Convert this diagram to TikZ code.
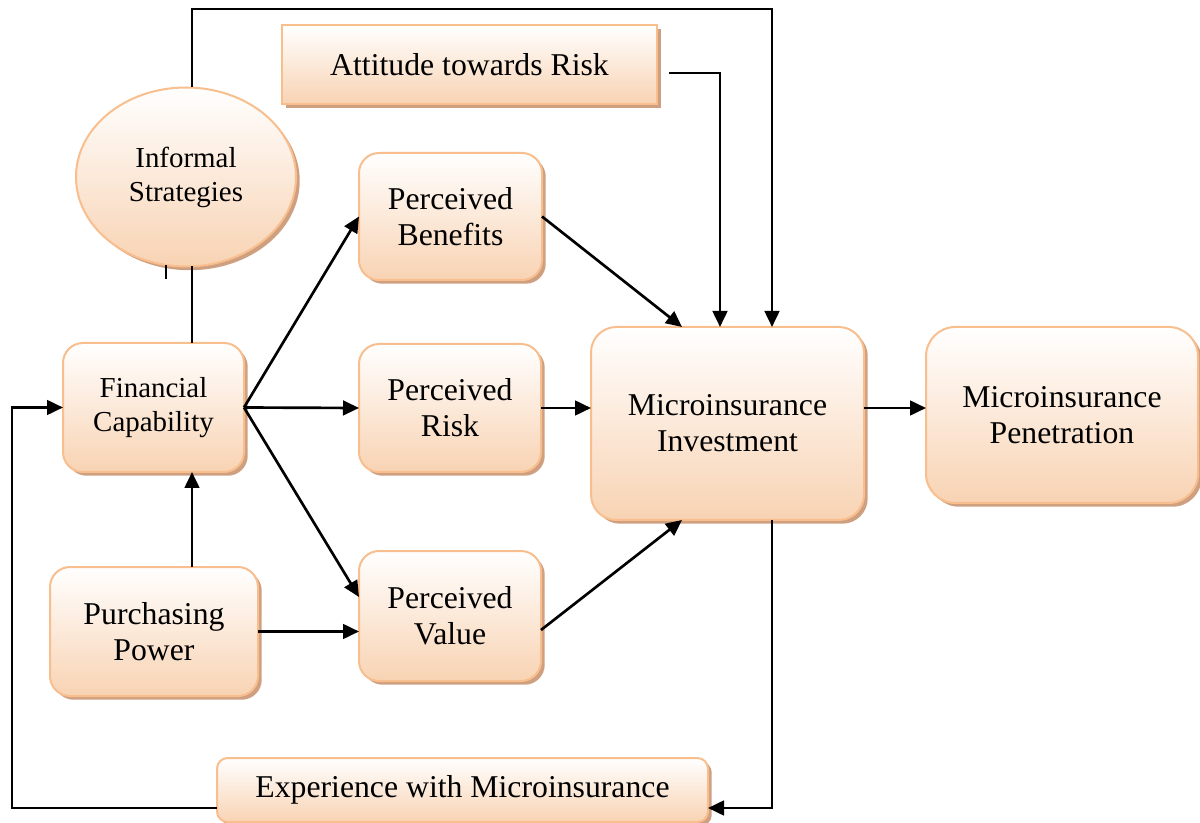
\documentclass[tikz,border=0pt]{standalone}
\usepackage{fontspec}
\setmainfont{Liberation Serif}
\usetikzlibrary{arrows.meta,shapes.geometric,calc}
\definecolor{edgeor}{HTML}{F8BE8E}
\definecolor{peach}{HTML}{F8D3B3}
\definecolor{shadowc}{HTML}{CFA080}
\tikzset{
  box/.style={draw=edgeor, line width=1.5pt, top color=white, bottom color=peach,
    inner sep=0pt, outer sep=0pt, align=center, font=\fontsize{23.8}{27}\selectfont,
    preaction={fill=shadowc, transform canvas={shift={(2.8pt,-2.8pt)}}}},
  rbox/.style={box, rounded corners=15pt},
  small/.style={font=\fontsize{21.7}{25.5}\selectfont},
  conn/.style={line width=2pt, black},
  arr/.style={conn, -{Triangle[length=12pt,width=11pt]}},
}
\begin{document}
\begin{tikzpicture}[x=0.75pt,y=-0.75pt]
\useasboundingbox (0,0) rectangle (1200,823);

% boxes
\node[box, minimum width=281.25pt, minimum height=59.25pt] (att) at (469.5,64.5) {Attitude towards Risk};
\node[box, ellipse, small, minimum width=165pt, minimum height=134.25pt] (inf) at (186,177) {Informal\\Strategies};
\node[rbox, small, minimum width=135.75pt, minimum height=96.75pt] (fc) at (153.5,407.5) {Financial\\Capability};
\node[rbox, minimum width=137.25pt, minimum height=95.25pt] (pb) at (450.5,216.5) {Perceived\\Benefits};
\node[rbox, minimum width=136.5pt, minimum height=96pt] (pr) at (450,408) {Perceived\\Risk};
\node[rbox, minimum width=136.5pt, minimum height=97.5pt] (pv) at (450,616) {Perceived\\Value};
\node[rbox, minimum width=156pt, minimum height=96.75pt] (pp) at (154,631.5) {Purchasing\\Power};
\node[rbox, rounded corners=19pt, minimum width=204.75pt, minimum height=144.75pt] (mi) at (727.5,423.5) {Microinsurance\\Investment};
\node[rbox, rounded corners=22pt, minimum width=204pt, minimum height=132pt] (pen) at (1062,415) {Microinsurance\\Penetration};
\node[rbox, rounded corners=8pt, minimum width=368.25pt, minimum height=48pt] (exp) at (462.5,790) {Experience with Microinsurance};

% corner points of the loops
\coordinate (topL) at (192,9);
\coordinate (botL) at (12,808);

% links out of informal strategies
\draw[arr] ($(inf.north)+(6,0)$) -- (topL) -| ($(mi.north west)+(181,0)$);
\draw[conn] ($(inf.south)+(6,0)$) -- ($(fc.north west)+(129,0)$);
\draw[conn] ($(inf.south)+(-20,-1)$) -- ++(0,14);

% financial capability and its drivers
\draw[arr] ($(pp.north west)+(142,0)$) -- ($(fc.south west)+(129,0)$);
\draw[arr] (fc.east) -- (pb.west);
\draw[arr] (fc.east) -- (pr.west);
\draw[arr] (fc.east) -- ($(pv.north west)+(0,46)$);
\draw[arr] (pp.east) -- (pp.east -| pv.west);

% perceptions into investment
\draw[arr] (pb.east) -- ($(mi.north west)+(91,0)$);
\draw[arr] (pr.east) -- (pr.east -| mi.west);
\draw[arr] ($(pv.east)+(0,14)$) -- ($(mi.south west)+(91,0)$);
\draw[arr] ($(att.east)+(12,8.5)$) -| ($(mi.north west)+(129,0)$);

% investment to penetration
\draw[arr] ($(mi.east)+(0,-15.5)$) -- ($(pen.west)+(0,-7)$);

% experience feedback loop
\draw[arr] ($(mi.south west)+(181,0)$) |- ($(exp.east)+(0,18)$);
\draw[arr] ($(exp.west)+(0,18)$) -- (botL) |- (fc.west);
\end{tikzpicture}
\end{document}
